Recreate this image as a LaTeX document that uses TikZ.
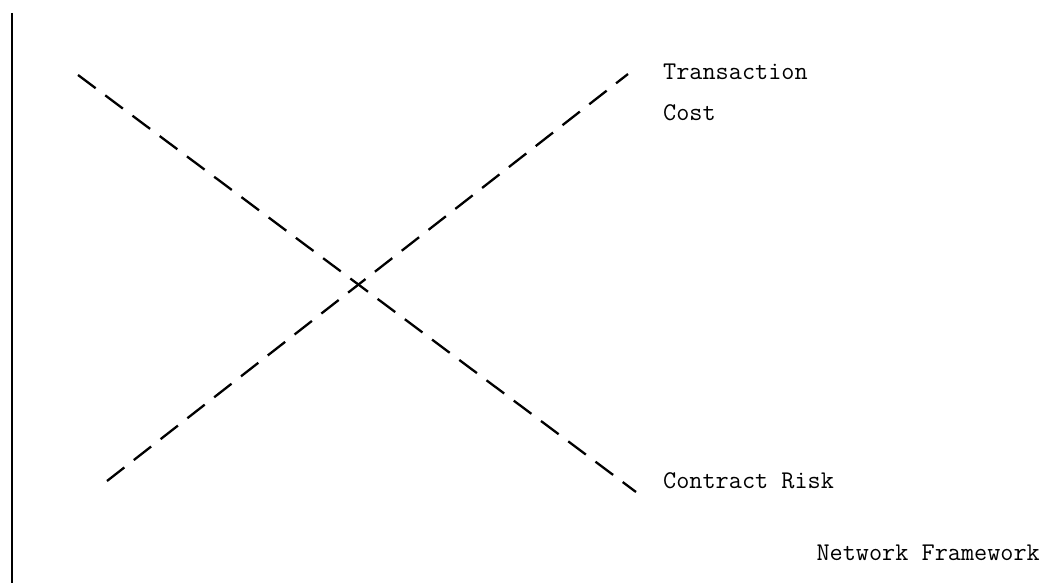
\documentclass[tikz,border=0pt]{standalone}
\usepackage{tikz}

\begin{document}
\begin{tikzpicture}[x=1pt,y=-1pt]
    \tikzset{curve/.style={line width=2.3pt,dash pattern=on 22pt off 12pt},
      lbl/.style={anchor=west,inner sep=0pt,font=\ttfamily\fontsize{25.5}{41}\selectfont}}
    \useasboundingbox (0,0) rectangle (1043,583);
    % axis
    \coordinate (top) at (12,13);
    \coordinate (bot) at (12,583);
    \draw[line width=2.3pt] (top) -- (bot);
    % the two curves
    \coordinate (cost0) at (107,481);
    \coordinate (cost1) at (628,74);
    \coordinate (risk0) at (78,75);
    \coordinate (risk1) at (636,492);
    \draw[curve] (cost0) -- (cost1);
    \draw[curve] (risk0) -- (risk1);
    \node[lbl] (cost) at (663,72) {Transaction};
    \node[lbl] (cost2) at (663,113) {Cost};
    \node[lbl] (risk) at (663,481) {Contract Risk};
    \node[lbl,anchor=east] (net) at (1040,553) {Network Framework};
  \end{tikzpicture}
\end{document}
